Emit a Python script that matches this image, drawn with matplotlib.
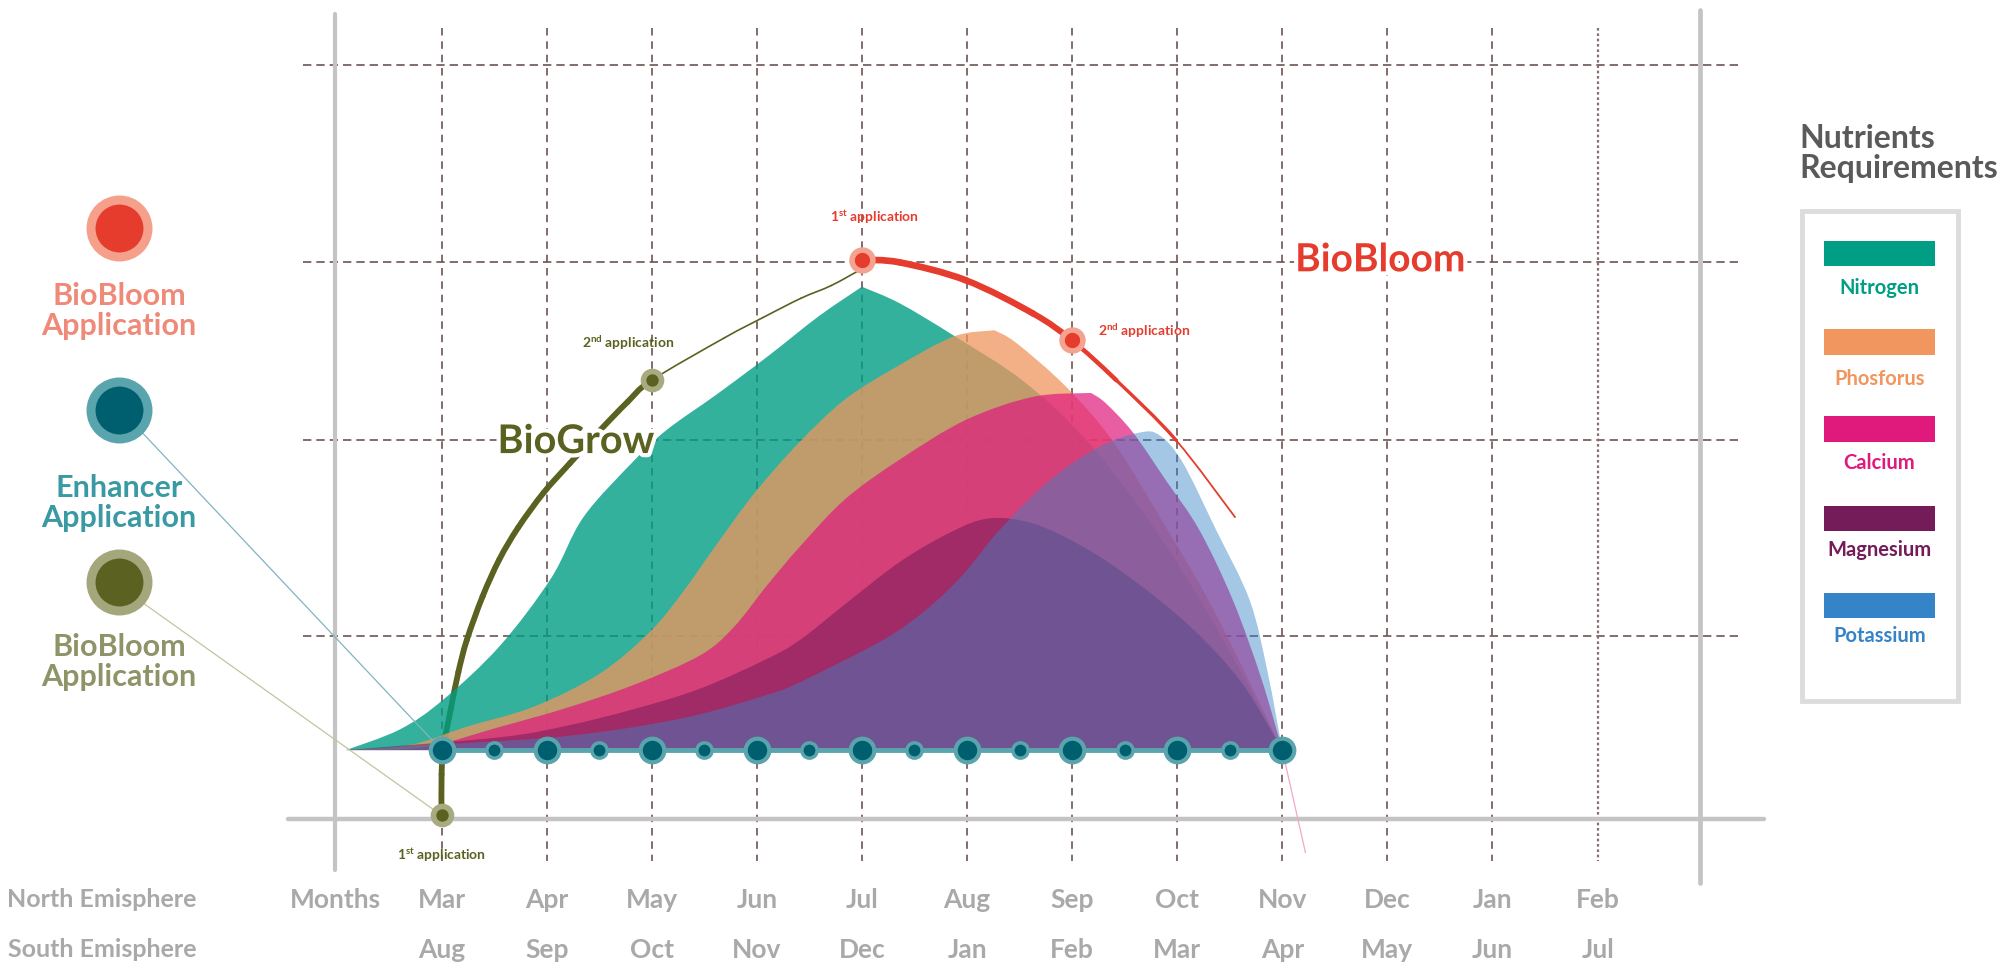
import matplotlib.pyplot as plt
import matplotlib.patheffects as pe
from matplotlib.patches import Rectangle, PathPatch
from matplotlib.path import Path

plt.rcParams['font.family'] = ['Lato', 'DejaVu Sans']
plt.rcParams['mathtext.fontset'] = 'custom'
plt.rcParams['mathtext.rm'] = 'Lato:bold'
plt.rcParams['mathtext.bf'] = 'Lato:bold'
plt.rcParams['mathtext.default'] = 'bf'

# month axis (x = months after March)
months_north = ["Mar", "Apr", "May", "Jun", "Jul", "Aug", "Sep", "Oct", "Nov", "Dec", "Jan", "Feb"]
months_south = ["Aug", "Sep", "Oct", "Nov", "Dec", "Jan", "Feb", "Mar", "Apr", "May", "Jun", "Jul"]
grid_levels = [53.5, 38.1, 24.2, 8.9]

# nutrient requirement curves
nitrogen_x = [-0.91, -0.40, 0.01, 0.55, 1.04, 1.35, 1.83, 2.14, 2.62, 3.11, 3.59, 4.00, 4.36, 4.87, 5.54, 6.15, 6.76, 7.37, 8.00]
nitrogen_y = [0, 1.6, 3.9, 8.1, 13.4, 18.2, 22.6, 25.0, 27.8, 30.8, 33.9, 36.2, 34.9, 32.4, 28.8, 24.1, 17.6, 9.6, 0]

phosphorus_x = [-0.91, -0.30, 0.23, 0.88, 1.51, 1.99, 2.30, 2.62, 2.98, 3.41, 3.84, 4.32, 4.87, 5.26, 5.47, 5.94, 6.39, 6.88, 7.37, 8.00]
phosphorus_y = [0, 0.4, 1.8, 3.4, 6.0, 9.3, 12.4, 16.1, 20.1, 24.1, 27.4, 29.9, 32.3, 32.8, 31.8, 28.4, 24.1, 17.6, 10.6, 0]

calcium_x = [-0.91, -0.18, 0.55, 1.19, 1.83, 2.46, 2.78, 3.09, 3.41, 3.84, 4.36, 4.99, 5.63, 6.18, 6.32, 6.58, 6.89, 7.21, 7.53, 7.80, 8.00]
calcium_y = [0, 0.2, 1.8, 3.3, 5.1, 7.4, 9.6, 12.8, 15.9, 19.6, 22.7, 25.8, 27.6, 27.9, 27.1, 24.8, 21.1, 17.2, 11.7, 5.6, 0]

magnesium_x = [-0.91, 0.55, 1.19, 1.83, 2.46, 3.09, 3.41, 3.84, 4.36, 4.84, 5.21, 5.63, 6.10, 6.58, 7.13, 7.61, 8.00]
magnesium_y = [0, 1.0, 1.9, 3.2, 4.8, 7.1, 8.6, 11.4, 14.7, 17.0, 18.1, 17.7, 15.9, 13.3, 9.6, 5.3, 0]

potassium_x = [-0.91, 0.55, 1.19, 1.83, 2.46, 3.09, 3.41, 4.20, 4.60, 4.95, 5.31, 5.79, 6.26, 6.64, 6.83, 7.05, 7.37, 7.69, 7.86, 8.00]
potassium_y = [0, 0.7, 1.1, 1.8, 2.8, 4.3, 5.3, 8.6, 10.9, 13.6, 17.2, 21.1, 23.7, 24.8, 24.6, 22.5, 17.2, 11.7, 6.1, 0]

nutrients = ["Nitrogen", "Phosforus", "Calcium", "Magnesium", "Potassium"]
nutrient_colors = ["#009e84", "#f0965e", "#e0197d", "#741b5a", "#3584c8"]
nutrient_alpha = [0.8, 0.75, 0.7, 0.55, 0.45]
nutrient_corners = [[11], [13], [13], [], []]

# BioGrow application curve (first part thick, tail thin)
biogrow_x = [0, 0, 0.02, 0.09, 0.16, 0.24, 0.39, 0.55, 0.73, 0.97, 1.22, 1.51, 1.77, 2.00, 2.69, 3.06, 3.42, 3.71, 4.00]
biogrow_y = [-5.1, -1.9, 0.3, 3.3, 6.1, 8.6, 12.0, 14.9, 17.4, 20.1, 22.4, 25.0, 27.2, 28.9, 32.2, 33.8, 35.3, 36.3, 37.6]
biogrow_apps_x = [0, 2]
biogrow_apps_y = [-5.1, 28.9]

# BioBloom application curve
biobloom_x = [4.00, 4.36, 4.99, 5.63, 6.00, 6.42, 6.99, 7.55]
biobloom_y = [38.3, 38.1, 36.7, 34.1, 32.0, 28.9, 24.2, 18.2]
biobloom_apps_x = [4, 6]
biobloom_apps_y = [38.3, 32.0]

# enhancer applications every half month
enhancer_x = [0, 0.5, 1, 1.5, 2, 2.5, 3, 3.5, 4, 4.5, 5, 5.5, 6, 6.5, 7, 7.5, 8]


def bezier_segments(xs, ys, corners=()):
    # catmull-rom through the points, broken at corner indices
    pts = list(zip(xs, ys))
    n = len(pts)
    segs = []
    for i in range(n - 1):
        p1, p2 = pts[i], pts[i + 1]
        p0 = pts[i - 1] if (i > 0 and i not in corners) else p1
        p3 = pts[i + 2] if (i + 2 < n and (i + 1) not in corners) else p2
        c1 = (p1[0] + (p2[0] - p0[0]) / 6, p1[1] + (p2[1] - p0[1]) / 6)
        c2 = (p2[0] - (p3[0] - p1[0]) / 6, p2[1] - (p3[1] - p1[1]) / 6)
        segs.append((p1, c1, c2, p2))
    return segs


def curve_path(segs, close=False):
    verts = [segs[0][0]]
    codes = [Path.MOVETO]
    for s in segs:
        verts += [s[1], s[2], s[3]]
        codes += [Path.CURVE4] * 3
    if close:
        verts.append(segs[0][0])
        codes.append(Path.CLOSEPOLY)
    return Path(verts, codes)


fig = plt.figure(figsize=(20.07, 9.71), dpi=100)
ax = fig.add_axes([0, 0, 1, 1])
ax.set_xlim(-4.202, 14.896)
ax.set_ylim(-17.26, 58.6)
ax.axis("off")

grid_c = "#6e5353"
for lv in grid_levels:
    ax.plot([-1.32, 12.36], [lv, lv], color=grid_c, lw=1.2, dashes=(5, 3), zorder=1)
for i in range(len(months_north)):
    if i == len(months_north) - 1:
        ax.plot([i, i], [56.4, -8.7], color="#8a6e6e", lw=1.6, dashes=(1.2, 1.2), zorder=1)
    else:
        ax.plot([i, i], [56.4, -8.7], color=grid_c, lw=1.2, dashes=(4.5, 3.5), zorder=1)

# sketchy gray frame
gray = "#c4c4c4"
ax.plot([-1.46, 12.58], [-5.4, -5.4], color=gray, lw=3.2, solid_capstyle="round", zorder=1.2)
ax.plot([-1.01, -1.01], [57.5, -9.4], color=gray, lw=3, solid_capstyle="round", zorder=1.2)
ax.plot([11.97, 11.97], [57.8, -10.4], color=gray, lw=3.4, solid_capstyle="round", zorder=1.2)

# application curves (under the nutrient areas)
olive = "#5b6120"
red = "#e53c2e"
grow_segs = bezier_segments(biogrow_x, biogrow_y)
for i, s in enumerate(grow_segs):
    lw = 4.2 if i < 13 else 1.2
    ax.add_patch(PathPatch(curve_path([s]), fill=False, edgecolor=olive, lw=lw, capstyle="round", zorder=1.5))
bloom_segs = bezier_segments(biobloom_x, biobloom_y)
bloom_lw = [4.8, 4.8, 4.6, 4.4, 3.2, 2.4, 1.3]
for s, lw in zip(bloom_segs, bloom_lw):
    ax.add_patch(PathPatch(curve_path([s]), fill=False, edgecolor=red, lw=lw, capstyle="round", zorder=1.5))
ax.plot([8.0, 8.22], [0, -8.0], color="#f2a6c8", lw=0.9, zorder=1.5)

# nutrient areas
series = [(nitrogen_x, nitrogen_y), (phosphorus_x, phosphorus_y), (calcium_x, calcium_y),
          (magnesium_x, magnesium_y), (potassium_x, potassium_y)]
for k, (xs, ys) in enumerate(series):
    path = curve_path(bezier_segments(xs, ys, nutrient_corners[k]), close=True)
    ax.add_patch(PathPatch(path, facecolor=nutrient_colors[k], alpha=nutrient_alpha[k], lw=0, zorder=2 + k))

# enhancer dots
ax.plot([enhancer_x[0], enhancer_x[-1]], [0, 0], color="#5aa5ad", lw=3.5, zorder=8)
big = [x for x in enhancer_x if x % 1 == 0]
small = [x for x in enhancer_x if x % 1 != 0]
ax.scatter(big, [0] * len(big), s=17 ** 2, color="#005f6e", edgecolor="#5aa5ad", lw=3, zorder=9)
ax.scatter(small, [0] * len(small), s=11 ** 2, color="#005f6e", edgecolor="#5aa5ad", lw=2.5, zorder=9)

# application dots
ax.scatter(biogrow_apps_x, biogrow_apps_y, s=13 ** 2, color=olive, edgecolor="#a8aa80", lw=4, zorder=9)
ax.scatter(biobloom_apps_x, biobloom_apps_y, s=15 ** 2, color=red, edgecolor="#f5a391", lw=4, zorder=9)

app_fs = 10
ax.text(0, -8.2, "1$^{st}$ application", color=olive, fontsize=app_fs, fontweight="bold", ha="center", va="center", zorder=10)
ax.text(1.77, 31.8, "2$^{nd}$ application", color=olive, fontsize=app_fs, fontweight="bold", ha="center", va="center", zorder=10)
ax.text(4.12, 41.6, "1$^{st}$ application", color=red, fontsize=app_fs, fontweight="bold", ha="center", va="center", zorder=10)
ax.text(6.25, 32.7, "2$^{nd}$ application", color=red, fontsize=app_fs, fontweight="bold", ha="left", va="center", zorder=10)

halo = [pe.withStroke(linewidth=6, foreground="white")]
ax.text(1.28, 24.1, "BioGrow", color=olive, fontsize=28.5, fontweight="bold", ha="center", va="center",
        path_effects=halo, zorder=10)
ax.text(8.93, 38.3, "BioBloom", color=red, fontsize=28, fontweight="bold", ha="center", va="center",
        path_effects=halo, zorder=10)

# left side key
keys = [("BioBloom\nApplication", "#e53c2e", "#f5a08a", "#f08a78", 40.8, 34.3),
        ("Enhancer\nApplication", "#005f6e", "#5aa5ad", "#3a9aa3", 26.6, 19.3),
        ("BioBloom\nApplication", "#5b6120", "#a4a67c", "#8f9468", 13.1, 6.9)]
kx = -3.07
for label, inner, outer, tc, cy, ty in keys:
    ax.scatter([kx], [cy], s=41 ** 2, color=inner, edgecolor=outer, lw=6.5, zorder=9)
    ax.text(kx, ty, label, color=tc, fontsize=22, fontweight="bold", ha="center", va="center",
            linespacing=1.1, zorder=10)
ax.plot([-2.86, 0], [24.9, 0], color="#7fb5c0", lw=0.9, zorder=7)
ax.plot([-2.86, 0], [11.6, -5.1], color="#c2c4a0", lw=0.9, zorder=7)

# bottom labels
lab_c = "#a9a9a9"
ax.text(-3.23, -11.7, "North Emisphere", color=lab_c, fontsize=18, fontweight="bold", ha="center", va="center")
ax.text(-3.23, -15.6, "South Emisphere", color=lab_c, fontsize=18, fontweight="bold", ha="center", va="center")
ax.text(-1.01, -11.7, "Months", color=lab_c, fontsize=19, fontweight="bold", ha="center", va="center")
for i, (n, s) in enumerate(zip(months_north, months_south)):
    ax.text(i, -11.7, n, color=lab_c, fontsize=19, fontweight="bold", ha="center", va="center")
    ax.text(i, -15.6, s, color=lab_c, fontsize=19, fontweight="bold", ha="center", va="center")

# right legend
ax.text(12.92, 48.9, "Nutrients\nRequirements", color="#5a5a5a", fontsize=23, fontweight="bold",
        ha="left", va="top", linespacing=1.05)
ax.add_patch(Rectangle((12.95, 3.8), 1.48, 38.3, fill=False, edgecolor="#dcdcdc", lw=3.5, zorder=5))
sw_top = [39.8, 32.9, 26.1, 19.1, 12.3]
lab_y = [36.1, 29.0, 22.4, 15.6, 8.9]
for k, name in enumerate(nutrients):
    ax.add_patch(Rectangle((13.15, sw_top[k] - 2.0), 1.06, 2.0, color=nutrient_colors[k], lw=0, zorder=6))
    ax.text(13.68, lab_y[k], name, color=nutrient_colors[k], fontsize=14.5, fontweight="bold",
            ha="center", va="center", zorder=6)

fig.savefig("out.png", dpi=100)
